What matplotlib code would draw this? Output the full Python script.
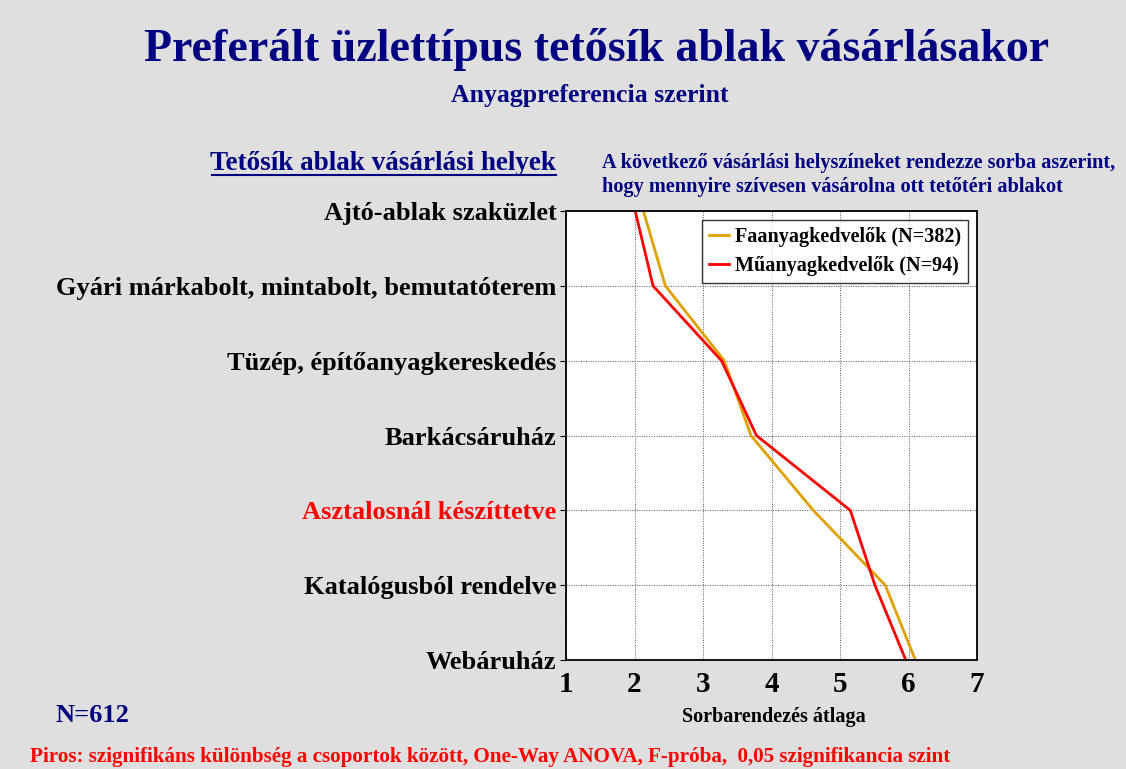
import matplotlib
matplotlib.use("Agg")
import matplotlib.pyplot as plt

categories = ["Ajtó-ablak szaküzlet", "Gyári márkabolt, mintabolt, bemutatóterem",
              "Tüzép, építőanyagkereskedés", "Barkácsáruház", "Asztalosnál készíttetve",
              "Katalógusból rendelve", "Webáruház"]
fa_values = [2.13, 2.45, 3.31, 3.70, 4.61, 5.66, 6.10]
mu_values = [2.01, 2.27, 3.27, 3.78, 5.15, 5.51, 5.96]
significant = [False, False, False, False, True, False, False]
x_ticks = [1, 2, 3, 4, 5, 6, 7]
series_names = ["Faanyagkedvelők (N=382)", "Műanyagkedvelők (N=94)"]

BG = "#dfdfdf"
NAVY = "#000080"
SERIF = ["Liberation Serif", "DejaVu Serif"]
plt.rcParams["font.family"] = SERIF
plt.rcParams["font.weight"] = "bold"

fig = plt.figure(figsize=(11.26, 7.69), dpi=100, facecolor=BG)
ax = fig.add_axes([0.5027, 0.1417, 0.365, 0.5839])
ax.set_facecolor("white")

ypos = list(range(len(categories)))
ax.plot(fa_values, ypos, color="#DFA000", lw=2.0, label=series_names[0])
ax.plot(mu_values, ypos, color="#FF0000", lw=2.0, label=series_names[1])

ax.set_xlim(1, 7)
ax.set_ylim(len(categories) - 1, 0)
ax.set_xticks(x_ticks)
ax.set_xticklabels([str(t) for t in x_ticks], fontsize=21, fontweight="bold")
ax.set_yticks(ypos)
ax.set_yticklabels(categories, fontsize=19, fontweight="bold")
for lbl, sig in zip(ax.get_yticklabels(), significant):
    lbl.set_color("#FF0000" if sig else "black")
ax.tick_params(axis="y", length=4, pad=3, direction="out")
ax.tick_params(axis="x", length=0, pad=8)
ax.grid(True, color="#555555", linestyle=(0, (1, 1.5)), linewidth=0.7)
for s in ax.spines.values():
    s.set_linewidth(1.3)
    s.set_color("black")

leg = ax.legend(loc="upper right", frameon=True, fancybox=False,
                edgecolor="black", handlelength=1.0, handletextpad=0.3,
                borderaxespad=0.45, labelspacing=0.45, borderpad=0.35,
                prop={"weight": "bold", "size": 14.5})
leg.get_frame().set_linewidth(1.0)

fig.text(0.53, 0.935, "Preferált üzlettípus tetősík ablak vásárlásakor",
         ha="center", va="center", fontsize=33, fontweight="bold", color=NAVY)
fig.text(0.524, 0.876, "Anyagpreferencia szerint", ha="center", va="center",
         fontsize=18.5, fontweight="bold", color=NAVY)
fig.text(0.494, 0.788, "Tetősík ablak vásárlási helyek", ha="right", va="center",
         fontsize=19.5, fontweight="bold", color=NAVY)
fig.add_artist(plt.Line2D([0.188, 0.494], [0.772, 0.772], color=NAVY, lw=1.5))
fig.text(0.535, 0.788, "A következő vásárlási helyszíneket rendezze sorba aszerint,",
         ha="left", va="center", fontsize=14.6, fontweight="bold", color=NAVY)
fig.text(0.535, 0.757, "hogy mennyire szívesen vásárolna ott tetőtéri ablakot",
         ha="left", va="center", fontsize=14.6, fontweight="bold", color=NAVY)
fig.text(0.049, 0.069, "N=612", ha="left", va="center", fontsize=19,
         fontweight="bold", color=NAVY)
fig.text(0.687, 0.067, "Sorbarendezés átlaga", ha="center", va="center",
         fontsize=14.5, fontweight="bold", color="black")
fig.text(0.027, 0.002, "Piros: szignifikáns különbség a csoportok között, One-Way ANOVA, F-próba,  0,05 szignifikancia szint",
         ha="left", va="bottom", fontsize=15.2, fontweight="bold", color="#FF0000")

fig.savefig("out.png", dpi=100, facecolor=BG)
